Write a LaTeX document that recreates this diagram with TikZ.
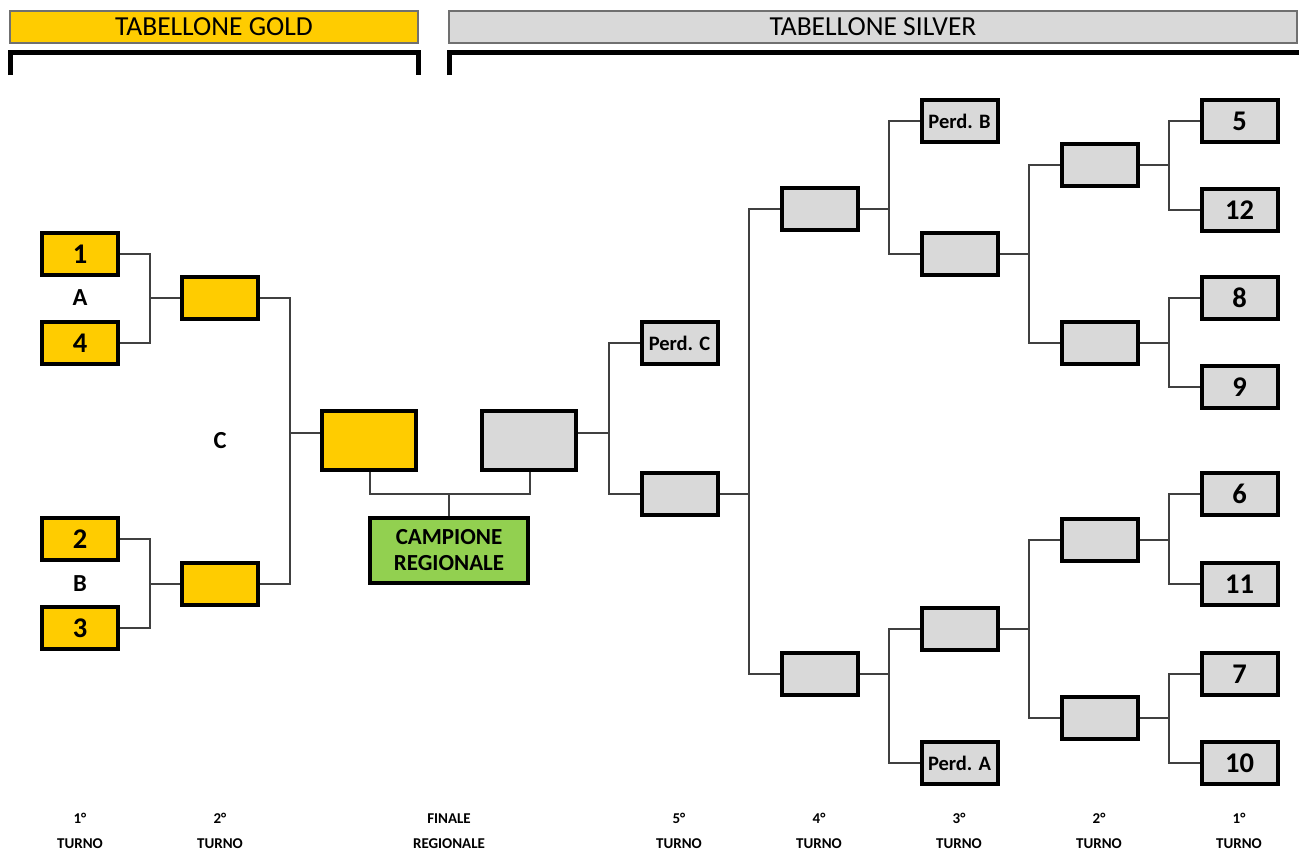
\documentclass[tikz,border=0pt]{standalone}
\usepackage{fontspec}
\setmainfont{Carlito}
\definecolor{gold}{HTML}{FFCC00}
\definecolor{silver}{HTML}{D9D9D9}
\definecolor{champ}{HTML}{92D050}
\definecolor{hdrline}{HTML}{707070}
\definecolor{connc}{HTML}{404040}
\tikzset{
  box/.style={draw=black, line width=4bp, inner sep=0pt, minimum width=76bp, minimum height=42bp,
     font=\fontsize{28.5bp}{30bp}\selectfont\bfseries},
  goldbox/.style={box, fill=gold},
  silverbox/.style={box, fill=silver},
  perd/.style={silverbox, font=\fontsize{20.5bp}{22bp}\selectfont\bfseries},
  finalbox/.style={box, minimum width=94bp, minimum height=59bp},
  header/.style={draw=hdrline, line width=1.3bp, inner sep=0pt, minimum height=32bp,
     font=\fontsize{27.5bp}{29bp}\selectfont},
  bracket/.style={line width=5bp, line join=miter},
  conn/.style={draw=connc, line width=1.3bp},
  grp/.style={font=\fontsize{24.5bp}{26bp}\selectfont\bfseries},
  turno/.style={align=center, font=\fontsize{15bp}{25bp}\selectfont\bfseries, inner sep=0pt},
}
\begin{document}
\begin{tikzpicture}[x=1bp,y=-1bp]
\useasboundingbox (0,0) rectangle (1299,851);
% headers
\node[header, fill=gold, minimum width=408bp] (hg) at (214,27) {TABELLONE GOLD};
\node[header, fill=silver, minimum width=848bp] (hs) at (873,27) {TABELLONE SILVER};
\draw[bracket] (10,75) -- (10,52.5) -- (418,52.5) -- (418,75);
\draw[bracket] (449.5,75) -- (449.5,52.5) -- (1302,52.5);

% gold bracket
\node[goldbox] (g1) at (80,254) {1};
\node[goldbox] (g4) at (80,343) {4};
\node[goldbox] (g2) at (80,539) {2};
\node[goldbox] (g3) at (80,628) {3};
\node[grp] (lA) at (80,298) {A};
\node[grp] (lB) at (80,584) {B};
\node[grp] (lC) at (220,441) {C};
\node[goldbox] (gA) at (220,298) {};
\node[goldbox] (gB) at (220,584) {};
\node[goldbox, finalbox] (gf) at (369,440.5) {};
\node[silverbox, finalbox] (sf) at (529,440.5) {};
\node[box, fill=champ, minimum width=158bp, minimum height=65bp, align=center,
      font=\fontsize{23bp}{26bp}\selectfont\bfseries] (cr) at (449,550.5) {CAMPIONE\\REGIONALE};

\coordinate (jA) at (150,298);
\coordinate (jB) at (150,584);
\coordinate (jC) at (290,433);
\draw[conn] (g1.east) -| (jA) |- (g4.east);
\draw[conn] (jA) -- (gA.west);
\draw[conn] (g2.east) -| (jB) |- (g3.east);
\draw[conn] (jB) -- (gB.west);
\draw[conn] (gA.east) -| (jC) |- (gB.east);
\draw[conn] (jC) -- (gf.west |- jC);
\coordinate (jF) at (449,494);
\draw[conn] (gf.south -| 370,0) |- (jF) -| (sf.south -| 530,0);
\draw[conn] (jF) -- (cr.north);

% silver bracket
\node[perd] (pC) at (679.5,343) {Perd. C};
\node[silverbox] (s5) at (679.5,494) {};
\node[silverbox] (s4a) at (819.5,209) {};
\node[silverbox] (s4b) at (819.5,674) {};
\node[perd] (pB) at (959.5,121) {Perd. B};
\node[silverbox] (s3a) at (959.5,254) {};
\node[silverbox] (s3b) at (959.5,629) {};
\node[perd] (pA) at (959.5,763) {Perd. A};
\node[silverbox] (s2a) at (1099.5,165) {};
\node[silverbox] (s2b) at (1099.5,343) {};
\node[silverbox] (s2c) at (1099.5,540) {};
\node[silverbox] (s2d) at (1099.5,718) {};
\node[silverbox] (n5) at (1239.5,121) {5};
\node[silverbox] (n12) at (1239.5,210) {12};
\node[silverbox] (n8) at (1239.5,298) {8};
\node[silverbox] (n9) at (1239.5,387) {9};
\node[silverbox] (n6) at (1239.5,494) {6};
\node[silverbox] (n11) at (1239.5,584) {11};
\node[silverbox] (n7) at (1239.5,674) {7};
\node[silverbox] (n10) at (1239.5,763) {10};

\coordinate (jE) at (609,433);
\draw[conn] (sf.east |- jE) -- (jE);
\draw[conn] (pC.west) -| (jE) |- (s5.west);
\coordinate (j5) at (749,494);
\draw[conn] (s5.east) -- (j5);
\draw[conn] (s4a.west) -| (j5) |- (s4b.west);
\coordinate (j4a) at (889,209);
\draw[conn] (s4a.east) -- (j4a);
\draw[conn] (pB.west) -| (j4a) |- (s3a.west);
\coordinate (j4b) at (889,674);
\draw[conn] (s4b.east) -- (j4b);
\draw[conn] (s3b.west) -| (j4b) |- (pA.west);
\coordinate (j3a) at (1029,254);
\draw[conn] (s3a.east) -- (j3a);
\draw[conn] (s2a.west) -| (j3a) |- (s2b.west);
\coordinate (j3b) at (1029,629);
\draw[conn] (s3b.east) -- (j3b);
\draw[conn] (s2c.west) -| (j3b) |- (s2d.west);
\coordinate (j2a) at (1169,165);
\draw[conn] (s2a.east) -- (j2a);
\draw[conn] (n5.west) -| (j2a) |- (n12.west);
\coordinate (j2b) at (1169,343);
\draw[conn] (s2b.east) -- (j2b);
\draw[conn] (n8.west) -| (j2b) |- (n9.west);
\coordinate (j2c) at (1169,540);
\draw[conn] (s2c.east) -- (j2c);
\draw[conn] (n6.west) -| (j2c) |- (n11.west);
\coordinate (j2d) at (1169,718);
\draw[conn] (s2d.east) -- (j2d);
\draw[conn] (n7.west) -| (j2d) |- (n10.west);

% round labels
\node[turno] (t1) at (80,831) {1°\\TURNO};
\node[turno] (t2) at (220,831) {2°\\TURNO};
\node[turno] (tf) at (449,831) {FINALE\\REGIONALE};
\node[turno] (t5) at (679,831) {5°\\TURNO};
\node[turno] (t4) at (819,831) {4°\\TURNO};
\node[turno] (t3) at (959,831) {3°\\TURNO};
\node[turno] (t2s) at (1099,831) {2°\\TURNO};
\node[turno] (t1s) at (1239,831) {1°\\TURNO};
\end{tikzpicture}
\end{document}
